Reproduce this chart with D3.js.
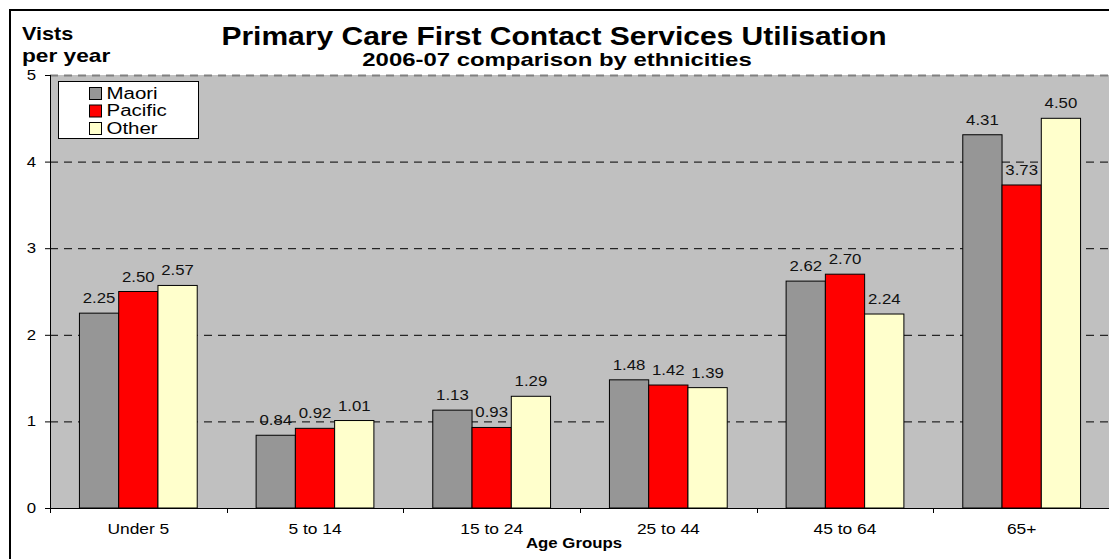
<!DOCTYPE html>
<html lang="en">
<head>
    <meta charset="utf-8">
    <title>Primary Care First Contact Services Utilisation</title>
    <style>
        body { margin: 0; background: #fff; }
        svg { display: block; font-family: "Liberation Sans", Arial, sans-serif; }
    </style>
    <script src="https://d3js.org/d3.v7.min.js"></script>
</head>
<body>
<svg></svg>
<script>
    const width = 1109;
    const height = 559;

    // data
    const ageGroups = ["Under 5", "5 to 14", "15 to 24", "25 to 44", "45 to 64", "65+"];
    const ethnicities = ["Maori", "Pacific", "Other"];
    const maori = [2.25, 0.84, 1.13, 1.48, 2.62, 4.31];
    const pacific = [2.50, 0.92, 0.93, 1.42, 2.70, 3.73];
    const other = [2.57, 1.01, 1.29, 1.39, 2.24, 4.50];
    const yTicks = [0, 1, 2, 3, 4, 5];
    const colors = ["#969696", "#ff0000", "#ffffcc"];

    const seriesValues = [maori, pacific, other];

    const plot = { left: 50, right: 1110, top: 75, bottom: 508 };
    // the original chart is stretched sideways, so text is too
    const stretch = 1.2;

    const svg = d3.select('svg').attr('width', width).attr('height', height);

    // places a text with its anchor at (x, y), widened by stretch
    function label(parent, x, y, txt, size, opts = {}) {
        return parent.append('text')
            .attr('transform', `translate(${x},${y}) scale(${opts.sx || stretch},1)`)
            .attr('text-anchor', opts.anchor || 'start')
            .attr('font-size', size)
            .attr('font-weight', opts.bold ? 'bold' : 'normal')
            .attr('fill', opts.fill || '#000')
            .text(txt);
    }

    const x = d3.scaleBand()
        .domain(ageGroups)
        .range([plot.left, plot.right])
        .padding(0);

    const xInner = d3.scaleBand()
        .domain(ethnicities)
        .range([0, x.bandwidth()])
        .paddingInner(0)
        .paddingOuter(0.75);

    const y = d3.scaleLinear()
        .domain([0, 5])
        .range([plot.bottom, plot.top]);

    const color = d3.scaleOrdinal().domain(ethnicities).range(colors);

    // outer chart border
    svg.append('rect')
        .attr('x', 10).attr('y', 10)
        .attr('width', 1120).attr('height', 580)
        .attr('fill', 'none')
        .attr('stroke', '#000')
        .attr('stroke-width', 2);

    // plot background
    svg.append('rect')
        .attr('x', plot.left).attr('y', plot.top)
        .attr('width', plot.right - plot.left)
        .attr('height', plot.bottom - plot.top)
        .attr('fill', '#c0c0c0');

    // gridlines
    svg.append('g')
        .selectAll('line')
        .data(yTicks.filter(d => d > 0))
        .enter().append('line')
        .attr('x1', plot.left).attr('x2', plot.right)
        .attr('y1', d => y(d) + 0.5).attr('y2', d => y(d) + 0.5)
        .attr('stroke', d => d === 5 ? '#808080' : '#000')
        .attr('stroke-width', d => d === 5 ? 2 : 1)
        .attr('stroke-dasharray', '8,6');

    // bars
    const groups = svg.append('g')
        .selectAll('g')
        .data(ageGroups)
        .enter().append('g')
        .attr('transform', d => `translate(${x(d)},0)`);

    const cells = (d, i) => ethnicities.map((e, j) => ({ key: e, value: seriesValues[j][i] }));

    groups.selectAll('rect')
        .data(cells)
        .enter().append('rect')
        .attr('x', d => xInner(d.key))
        .attr('y', d => y(d.value))
        .attr('width', xInner.bandwidth())
        .attr('height', d => y(0) - y(d.value))
        .attr('fill', d => color(d.key))
        .attr('stroke', '#000')
        .attr('stroke-width', 1);

    groups.each(function (g, i) {
        const grp = d3.select(this);
        cells(g, i).forEach(d => {
            label(grp, xInner(d.key) + xInner.bandwidth() / 2, y(d.value) - 10,
                d.value.toFixed(2), 14, { anchor: 'middle', fill: '#111' });
        });
    });

    // y axis
    svg.append('line')
        .attr('x1', plot.left + 0.5).attr('x2', plot.left + 0.5)
        .attr('y1', plot.top).attr('y2', plot.bottom)
        .attr('stroke', '#000');
    const yAxis = svg.append('g');
    yTicks.forEach(t => {
        yAxis.append('line')
            .attr('x1', plot.left - 5).attr('x2', plot.left)
            .attr('y1', y(t) + 0.5).attr('y2', y(t) + 0.5)
            .attr('stroke', '#000');
        label(yAxis, 36, y(t) + 5, d3.format('d')(t), 14, { anchor: 'end' });
    });

    // x axis with ticks on category boundaries
    svg.append('line')
        .attr('x1', plot.left).attr('x2', plot.right)
        .attr('y1', plot.bottom + 0.5).attr('y2', plot.bottom + 0.5)
        .attr('stroke', '#000');

    svg.append('g')
        .selectAll('line')
        .data(ageGroups)
        .enter().append('line')
        .attr('x1', d => Math.round(x(d)) + 0.5).attr('x2', d => Math.round(x(d)) + 0.5)
        .attr('y1', plot.bottom).attr('y2', plot.bottom + 5)
        .attr('stroke', '#000');

    const xLabels = svg.append('g');
    ageGroups.forEach(g => {
        label(xLabels, x(g) + x.bandwidth() / 2, 534, g, 14.5, { anchor: 'middle' });
    });

    // titles
    label(svg, 554, 45, 'Primary Care First Contact Services Utilisation', 25, { anchor: 'middle', bold: true });
    label(svg, 557, 66, '2006-07 comparison by ethnicities', 18, { anchor: 'middle', bold: true, sx: 1.33 });
    label(svg, 22, 40, 'Vists', 18, { bold: true });
    label(svg, 22, 62, 'per year', 18, { bold: true, sx: 1.26 });
    label(svg, 574, 548, 'Age Groups', 14, { anchor: 'middle', bold: true });

    // legend
    const legend = svg.append('g');
    legend.append('rect')
        .attr('x', 58.5).attr('y', 81.5)
        .attr('width', 140).attr('height', 57)
        .attr('fill', '#fff')
        .attr('stroke', '#000');

    ethnicities.forEach((e, i) => {
        const item = legend.append('g')
            .attr('transform', `translate(89.5,${87.5 + i * 17.5})`);
        item.append('rect')
            .attr('width', 12).attr('height', 12)
            .attr('fill', color(e))
            .attr('stroke', '#000');
        label(item, 17, 11, e, 16, { sx: 1.28 });
    });
</script>
</body>
</html>
